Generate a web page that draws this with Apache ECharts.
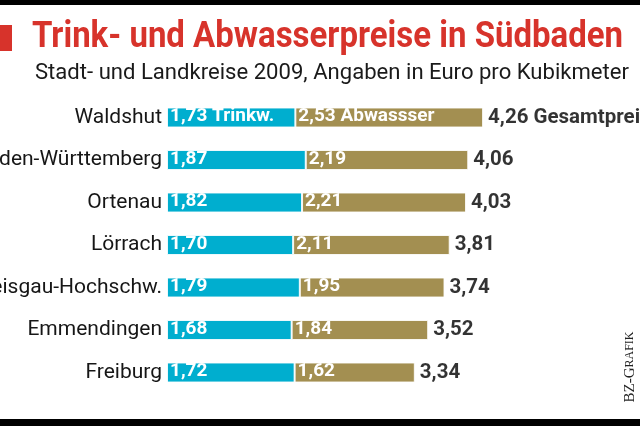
<!DOCTYPE html>
<html>
<head>
<meta charset="utf-8">
<script src="https://cdn.jsdelivr.net/npm/echarts@6/dist/echarts.min.js"></script>
<style>
html,body{margin:0;padding:0;background:#fff;}
#chart{width:640px;height:426px;}
</style>
</head>
<body>
<div id="chart"></div>
<script>
const categories = ['Waldshut', 'Baden-Württemberg', 'Ortenau', 'Lörrach', 'Breisgau-Hochschw.', 'Emmendingen', 'Freiburg'];
const trinkwasser = [1.73, 1.87, 1.82, 1.70, 1.79, 1.68, 1.72];
const abwasser = [2.53, 2.19, 2.21, 2.11, 1.95, 1.84, 1.62];
const gesamt = [4.26, 4.06, 4.03, 3.81, 3.74, 3.52, 3.34];
const firstRowSuffix = { trink: ' Trinkw.', ab: ' Abwassser', total: ' Gesamtpreis' };
const titleText = 'Trink- und Abwasserpreise in Südbaden';
const subtitleText = 'Stadt- und Landkreise 2009, Angaben in Euro pro Kubikmeter';
const creditText = ['BZ-G', 'RAFIK'];

const SANS = 'Roboto, "Liberation Sans", sans-serif';
const RED = '#d7332b';
const CYAN = '#00aecf';
const KHAKI = '#a38f51';

function fmt(v) { return v.toFixed(2).replace('.', ','); }
const mctx = document.createElement('canvas').getContext('2d');
function fitScale(text, font, target) {
  mctx.font = font;
  return target / mctx.measureText(text).width;
}
const titleScale = fitScale(titleText, 'bold 36px Roboto', 591);
const subScale = fitScale(subtitleText, '22px Roboto', 594);

const barLabel = (suffix) => ({
  show: true, position: 'insideLeft', distance: 3, offset: [0, -1], color: '#fff', fontWeight: 'bold',
  fontSize: 19, fontFamily: SANS, textBorderWidth: 0, textShadowBlur: 0,
  formatter: p => fmt(p.value) + (p.dataIndex === 0 ? suffix : '')
});

const chart = echarts.init(document.getElementById('chart'), null, { renderer: 'canvas' });
chart.setOption({
  animation: false,
  backgroundColor: '#ffffff',
  grid: { left: 167, top: 96.25, width: 445.2, height: 297.5, containLabel: false, outerBoundsMode: 'none' },
  xAxis: { type: 'value', min: 0, max: 6, show: false },
  yAxis: {
    type: 'category', data: categories, inverse: true,
    axisLine: { show: false }, axisTick: { show: false },
    axisLabel: { fontSize: 21, color: '#161616', fontFamily: SANS, margin: 5 }
  },
  series: [
    {
      name: 'Trinkwasser', type: 'bar', stack: 'p', barWidth: 20, data: trinkwasser,
      itemStyle: { color: CYAN, borderColor: 'rgba(255,255,255,0.85)', borderWidth: 1 },
      label: barLabel(firstRowSuffix.trink)
    },
    {
      name: 'Abwasser', type: 'bar', stack: 'p', barWidth: 20, data: abwasser,
      itemStyle: { color: KHAKI, borderColor: 'rgba(255,255,255,0.85)', borderWidth: 1 },
      label: barLabel(firstRowSuffix.ab)
    },
    {
      name: 'Gesamt', type: 'scatter', symbolSize: 0, silent: true,
      data: gesamt.map((v, i) => [v, i]),
      label: {
        show: true, position: 'right', distance: 5, color: '#000', fontWeight: 'bold',
        fontSize: 20.5, fontFamily: SANS, textBorderWidth: 0,
        formatter: p => fmt(p.value[0]) + (p.dataIndex === 0 ? firstRowSuffix.total : '')
      }
    }
  ],
  graphic: [
    { type: 'rect', shape: { x: 0, y: 0, width: 640, height: 5 }, style: { fill: '#000' } },
    { type: 'rect', shape: { x: 0, y: 419, width: 640, height: 7 }, style: { fill: '#000' } },
    { type: 'rect', shape: { x: 0, y: 25, width: 12, height: 26 }, style: { fill: RED } },
    {
      type: 'text', x: 32, y: 38, scaleX: titleScale,
      style: { text: titleText, fill: RED, fontSize: 36, fontWeight: 'bold', fontFamily: 'Roboto',
        align: 'left', verticalAlign: 'middle', textAlign: 'left', textVerticalAlign: 'middle' }
    },
    {
      type: 'text', x: 35, y: 73, scaleX: subScale,
      style: { text: subtitleText, fill: '#1a1a1a', fontSize: 22, fontFamily: 'Roboto',
        align: 'left', verticalAlign: 'middle', textAlign: 'left', textVerticalAlign: 'middle' }
    },
    {
      type: 'text', x: 630, y: 367, rotation: Math.PI / 2,
      style: {
        text: '{b|' + creditText[0] + '}{s|' + creditText[1] + '}',
        rich: {
          b: { fontSize: 15, fontFamily: '"Liberation Serif", "DejaVu Serif", serif', fill: '#222', color: '#222' },
          s: { fontSize: 12, fontFamily: '"Liberation Serif", "DejaVu Serif", serif', fill: '#222', color: '#222' }
        },
        align: 'center', verticalAlign: 'middle', textAlign: 'center', textVerticalAlign: 'middle'
      }
    }
  ]
});
</script>
</body>
</html>
